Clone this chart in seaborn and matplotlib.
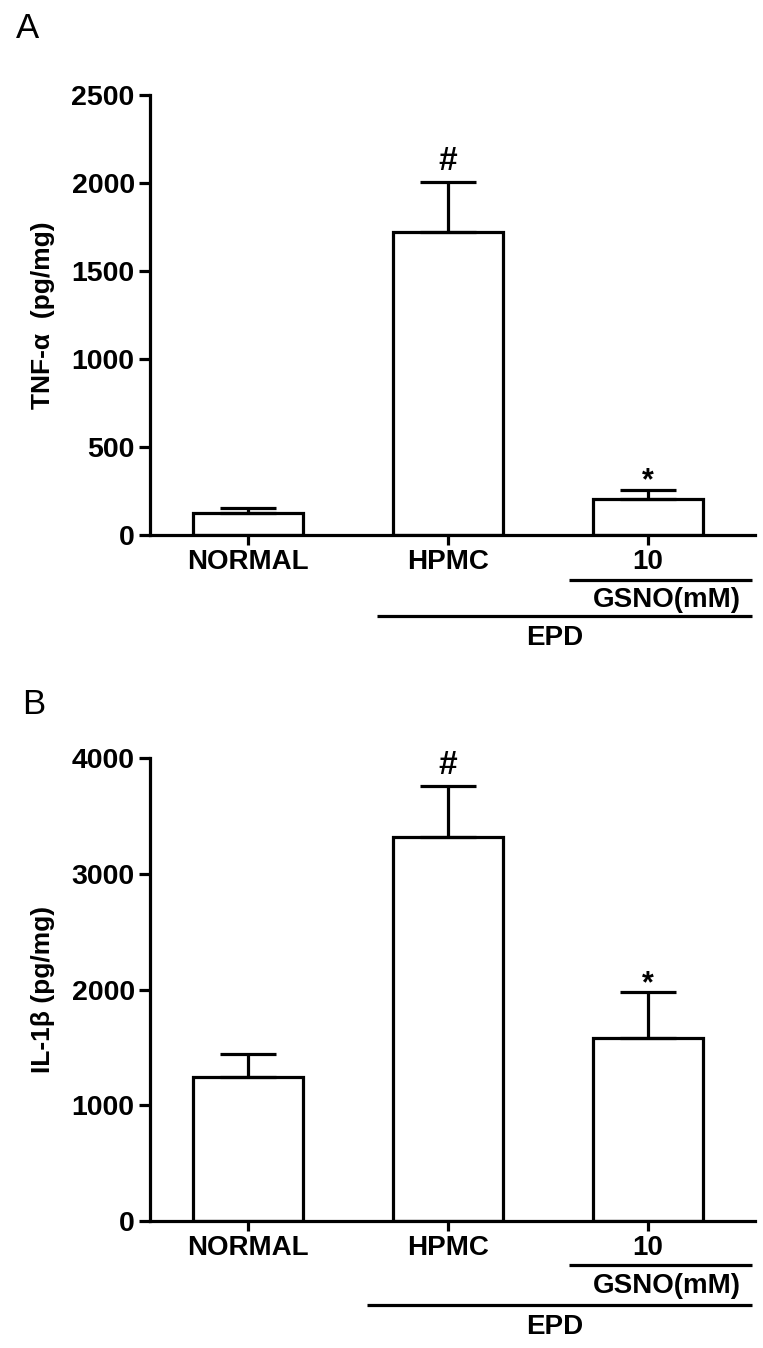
import numpy as np
import pandas as pd
import seaborn as sns
import matplotlib.pyplot as plt
from matplotlib.transforms import blended_transform_factory

sns.set_style("ticks")
plt.rcParams['font.family'] = ['Liberation Sans', 'DejaVu Sans']
plt.rcParams['font.weight'] = 'bold'
for k in ['text.color', 'axes.labelcolor', 'xtick.color', 'ytick.color']:
    plt.rcParams[k] = 'black'

groups = ["NORMAL", "HPMC", "GSNO 10"]
tick_labels = ["NORMAL", "HPMC", "10"]
marks = ["", "#", "*"]

# panel A: TNF-alpha, bar mean and top of SEM bar
tnf_mean = [124, 1720, 206]
tnf_upper = [155, 2005, 258]
tnf_ticks = [0, 500, 1000, 1500, 2000, 2500]

# panel B: IL-1beta
il1b_mean = [1245, 3320, 1577]
il1b_upper = [1445, 3756, 1977]
il1b_ticks = [0, 1000, 2000, 3000, 4000]

LW = 2.3


def panel(ax, means, uppers, ticks, ylabel, lines_y, text_y):
    df = pd.DataFrame({"group": groups, "value": means})
    sns.barplot(data=df, x="group", y="value", color="white", saturation=1,
                edgecolor="black", linewidth=LW, width=0.55, errorbar=None, ax=ax)
    err = np.subtract(uppers, means)
    ax.errorbar(range(len(groups)), means, yerr=[np.zeros(len(err)), err],
                fmt="none", ecolor="black", elinewidth=LW, capsize=20.5,
                capthick=LW, zorder=1)
    for i, m in enumerate(marks):
        if m:
            ax.annotate(m, (i, uppers[i]), xytext=(0, 9 if m == "#" else 0),
                        textcoords="offset points", ha="center", va="baseline",
                        fontsize=24 if m == "#" else 22, fontweight="bold")

    ax.set_xlim(-0.49, 2.535)
    ax.set_ylim(0, ticks[-1])
    ax.set_yticks(ticks)
    ax.set_xticks(range(len(groups)))
    ax.set_xticklabels(tick_labels)
    ax.set_xlabel("")
    ax.set_ylabel(ylabel, fontsize=19, fontweight="bold", labelpad=12)
    sns.despine(ax=ax)
    for s in ["left", "bottom"]:
        ax.spines[s].set_linewidth(LW)
        ax.spines[s].set_color("black")
    ax.tick_params(axis="y", width=LW, length=8, labelsize=20.5, pad=3)
    ax.tick_params(axis="x", width=LW, length=7, labelsize=20, pad=3)

    # group brackets under the x axis
    tr = blended_transform_factory(ax.transData, ax.transAxes)
    ax.plot([1.605, 2.52], [lines_y[0]] * 2, color="black", lw=LW,
            transform=tr, clip_on=False, solid_capstyle="butt")
    ax.plot([lines_y[2], 2.52], [lines_y[1]] * 2, color="black", lw=LW,
            transform=tr, clip_on=False, solid_capstyle="butt")
    ax.text(2.095, text_y[0], "GSNO(mM)", transform=tr, ha="center", va="center",
            fontsize=20, fontweight="bold")
    ax.text(1.535, text_y[1], "EPD", transform=tr, ha="center", va="center",
            fontsize=20, fontweight="bold")


fig = plt.figure(figsize=(7.63, 13.48), dpi=100)
axA = fig.add_axes([150 / 763, 1 - 535 / 1348, 605 / 763, 440 / 1348])
axB = fig.add_axes([150 / 763, 1 - 1221 / 1348, 605 / 763, 463 / 1348])

panel(axA, tnf_mean, tnf_upper, tnf_ticks, "TNF-α  (pg/mg)",
      (-0.102, -0.184, 0.645), (-0.148, -0.234))
panel(axB, il1b_mean, il1b_upper, il1b_ticks, "IL-1β (pg/mg)",
      (-0.095, -0.181, 0.595), (-0.140, -0.229))

fig.text(16 / 763, 1 - 29 / 1348, "A", fontsize=25, fontweight="normal",
         ha="left", va="center")
fig.text(22 / 763, 1 - 705 / 1348, "B", fontsize=25, fontweight="normal",
         ha="left", va="center")

fig.savefig("out.png", dpi=100)
